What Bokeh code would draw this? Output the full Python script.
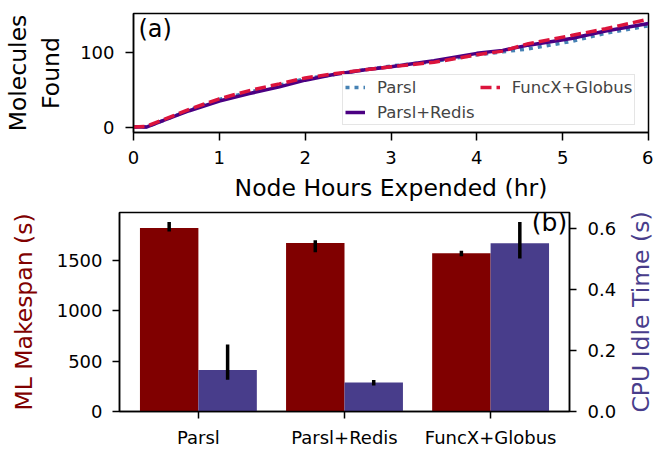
import math
from bokeh.plotting import figure
from bokeh.models import (Range1d, LinearAxis, FixedTicker, Legend, LegendItem,
                          Label, NumeralTickFormatter)
from bokeh.layouts import row
from bokeh.embed import file_html
from bokeh.resources import INLINE

FONT = "DejaVu Sans"

# ---- panel (a) data: molecules found vs node hours ----
hours = [0, 0.15, 0.35, 0.65, 1.0, 1.35, 1.7, 2.0, 2.3, 2.7, 3.0, 3.5, 4.0, 4.3, 4.6, 5.1, 5.5, 6.0]
parsl = [0, 0, 9, 23, 37, 47, 56, 65, 70, 77, 82, 88, 97, 101, 105, 115, 126, 136]
parsl_redis = [0, 0, 9, 22, 35, 45, 54, 63, 70, 77, 81, 89, 99, 103, 110, 119, 129, 139]
funcx_globus = [0, 1, 10, 24, 38, 49, 58, 66, 71, 77, 81, 87, 97, 102, 112, 123, 132, 145]
x_ticks_a = [0, 1, 2, 3, 4, 5, 6]
y_ticks_a = [0, 100]

# ---- panel (b) data: makespan and CPU idle time ----
systems = ["Parsl", "Parsl+Redis", "FuncX+Globus"]
makespan = [1824, 1676, 1573]
makespan_lo = [1790, 1583, 1543]
makespan_hi = [1883, 1701, 1599]
idle = [0.1365, 0.0949, 0.553]
idle_lo = [0.1047, 0.0851, 0.503]
idle_hi = [0.2205, 0.1037, 0.623]
y_ticks_left = [0, 500, 1000, 1500]
y_ticks_right = [0.0, 0.2, 0.4, 0.6]

RED = "#800000"
BLUE = "#483D8B"


def style_axis(ax, tick_out=7, standoff=10, label_standoff=10):
    ax.axis_line_color = "black"
    ax.axis_line_width = 1.5
    ax.major_tick_line_color = "black"
    ax.major_tick_line_width = 1.5
    ax.major_tick_out = tick_out
    ax.major_tick_in = 0
    ax.minor_tick_out = 0
    ax.minor_tick_in = 0
    ax.major_label_text_font = FONT
    ax.major_label_text_font_size = "18px"
    ax.major_label_text_color = "black"
    ax.major_label_standoff = standoff
    ax.axis_label_text_font = FONT
    ax.axis_label_text_font_size = "23.5px"
    ax.axis_label_text_font_style = "normal"
    ax.axis_label_text_color = "black"
    ax.axis_label_standoff = label_standoff


def style_fig(p):
    p.outline_line_color = "black"
    p.outline_line_width = 1.5
    p.outline_line_alpha = 1.0
    p.xgrid.visible = False
    p.ygrid.visible = False
    p.background_fill_color = "white"
    p.border_fill_color = "white"


# ---------------- panel (a) ----------------
p1 = figure(width=653, height=205, output_backend="svg", toolbar_location=None,
            x_range=Range1d(0, 6), y_range=Range1d(-7.25, 152.5),
            min_border_left=132, min_border_right=5, min_border_top=13,
            min_border_bottom=73)
style_fig(p1)
r1 = p1.line(hours, parsl, line_color="#4682B4", line_width=3.5,
             line_dash="4 5", line_cap="butt")
r2 = p1.line(hours, parsl_redis, line_color="#4B0082", line_width=3.5)
r3 = p1.line(hours, funcx_globus, line_color="#DC143C", line_width=3.5,
             line_dash="11 5")

p1.xaxis.ticker = FixedTicker(ticks=x_ticks_a)
p1.yaxis.ticker = FixedTicker(ticks=y_ticks_a)
p1.xaxis.axis_label = "Node Hours Expended (hr)"
p1.yaxis.axis_label = "Molecules\nFound"
style_axis(p1.xaxis[0], tick_out=8, standoff=10, label_standoff=7)
style_axis(p1.yaxis[0], tick_out=8, standoff=11, label_standoff=12)

legend = Legend(items=[LegendItem(label="Parsl", renderers=[r1]),
                       LegendItem(label="Parsl+Redis", renderers=[r2]),
                       LegendItem(label="FuncX+Globus", renderers=[r3])],
                ncols=2, location=(209, 7))
legend.label_text_font = FONT
legend.label_text_font_size = "16.5px"
legend.glyph_width = 20
legend.glyph_height = 20
legend.label_height = 20
legend.label_standoff = 12
legend.padding = 2
legend.spacing = 5
legend.margin = 0
legend.border_line_color = "#cccccc"
legend.border_line_width = 1
legend.background_fill_alpha = 0.8
p1.add_layout(legend)

p1.add_layout(Label(x=0.058, y=132, text="(a)", text_font=FONT,
                    text_font_size="24px", text_baseline="middle",
                    text_align="left", text_color="black"))

# ---------------- panel (b) ----------------
p2 = figure(width=627, height=245, output_backend="svg", toolbar_location=None,
            x_range=Range1d(-0.54, 2.54), y_range=Range1d(0, 1978),
            min_border_left=119, min_border_right=58, min_border_top=7,
            min_border_bottom=37)
style_fig(p2)
p2.extra_y_ranges = {"cpu": Range1d(0, 0.654)}

idx = list(range(len(systems)))
x_red = [i - 0.2 for i in idx]
x_blue = [i + 0.2 for i in idx]

p2.vbar(x=x_red, top=makespan, bottom=0, width=0.4, fill_color=RED, line_color=None)
p2.vbar(x=x_blue, top=idle, bottom=0, width=0.4, fill_color=BLUE, line_color=None,
        y_range_name="cpu")
p2.segment(x0=x_red, y0=makespan_lo, x1=x_red, y1=makespan_hi,
           line_color="black", line_width=3.5)
p2.segment(x0=x_blue, y0=idle_lo, x1=x_blue, y1=idle_hi,
           line_color="black", line_width=3.5, y_range_name="cpu")

p2.xaxis.ticker = FixedTicker(ticks=idx)
p2.xaxis.major_label_overrides = {i: s for i, s in zip(idx, systems)}
p2.yaxis.ticker = FixedTicker(ticks=y_ticks_left)
p2.yaxis.axis_label = "ML Makespan (s)"
style_axis(p2.xaxis[0], tick_out=7, standoff=8)
style_axis(p2.yaxis[0], tick_out=7, standoff=10, label_standoff=16)
p2.yaxis.axis_label_text_color = RED

right_axis = LinearAxis(y_range_name="cpu",
                        ticker=FixedTicker(ticks=y_ticks_right),
                        formatter=NumeralTickFormatter(format="0.0"))
style_axis(right_axis, tick_out=7, standoff=11)
p2.add_layout(right_axis, "right")

p2.add_layout(Label(x=2.282, y=1881, text="(b)", text_font=FONT,
                    text_font_size="25px", text_baseline="middle",
                    text_align="left", text_color="black"))

# narrow strip holding the right-hand axis title (reads bottom-to-top)
p3 = figure(width=26, height=245, output_backend="svg", toolbar_location=None,
            x_range=Range1d(0, 1), y_range=Range1d(0, 1),
            x_axis_location=None, y_axis_location=None,
            min_border_left=0, min_border_right=0, min_border_top=7,
            min_border_bottom=37)
p3.outline_line_color = None
p3.xgrid.visible = False
p3.ygrid.visible = False
p3.add_layout(Label(x=0.5, y=0.5, text="CPU Idle Time (s)", text_font=FONT,
                    text_font_size="23.5px", text_baseline="middle",
                    text_align="center", angle=math.pi / 2, text_color=BLUE))

open("out.html", "w").write(file_html([p1, row(p2, p3, spacing=0)], INLINE))
